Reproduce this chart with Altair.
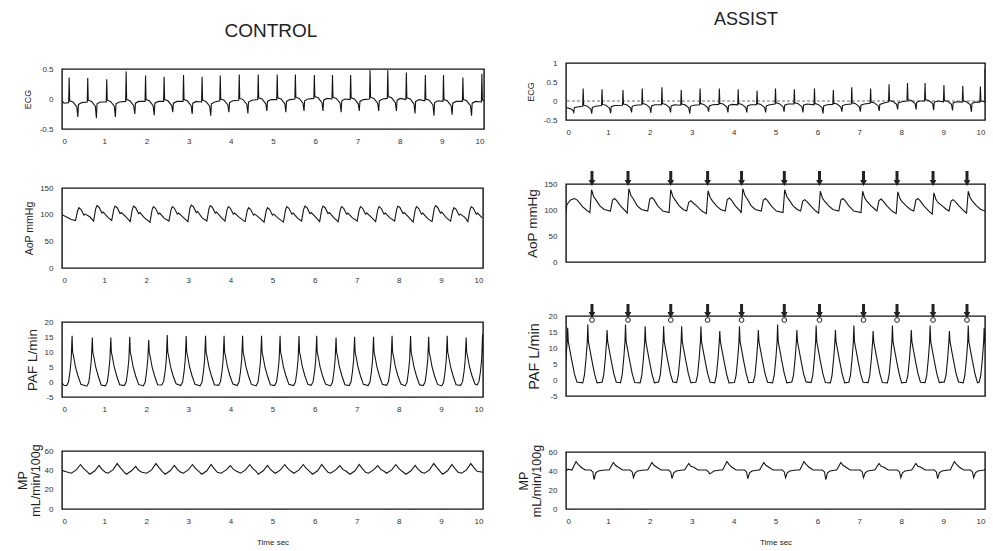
import altair as alt
import pandas as pd

# ================= CONTROL (left column) =================
# ECG: R-wave times (s), R peak (mV), baseline, notch minimum
c_ecg_t = [0.17, 0.61, 1.06, 1.52, 1.98, 2.42, 2.88, 3.32, 3.75, 4.20, 4.65, 5.10,
           5.53, 5.98, 6.41, 6.84, 7.30, 7.72, 8.16, 8.61, 9.04, 9.50, 9.95]
c_ecg_r = [0.36, 0.35, 0.33, 0.46, 0.39, 0.37, 0.40, 0.37, 0.39, 0.41, 0.41, 0.41,
           0.41, 0.40, 0.40, 0.40, 0.48, 0.48, 0.44, 0.40, 0.40, 0.36, 0.42]
c_ecg_base = [-0.06, -0.05, -0.05, -0.04, -0.04, -0.04, -0.04, -0.05, -0.03, -0.02, -0.01, -0.01,
              0.00, 0.01, 0.00, -0.01, 0.00, 0.01, -0.01, -0.03, -0.04, -0.04, -0.05]
c_ecg_dip = [-0.30, -0.32, -0.30, -0.25, -0.27, -0.22, -0.25, -0.28, -0.22, -0.24, -0.20, -0.22,
             -0.20, -0.20, -0.22, -0.20, -0.20, -0.20, -0.24, -0.28, -0.26, -0.28, -0.28]
c_ecg_start = [(0.0, -0.03), (0.05, -0.07), (0.15, -0.06)]

# AoP: systolic peak times, peak, preceding trough (mmHg)
c_aop_t = [0.40, 0.83, 1.26, 1.70, 2.17, 2.62, 3.07, 3.52, 3.95, 4.43, 4.88, 5.34,
           5.77, 6.20, 6.64, 7.09, 7.53, 7.98, 8.42, 8.87, 9.31, 9.72]
c_aop_p = [113, 117, 116, 116, 115, 115, 118, 117, 115, 113, 113, 115,
           116, 116, 115, 115, 115, 116, 115, 117, 113, 115]
c_aop_min = [89, 88, 89, 87, 86, 88, 87, 88, 88, 87, 86, 86,
             88, 87, 87, 88, 87, 88, 86, 87, 88, 87]
c_aop_start = [(0.0, 100), (0.12, 95), (0.22, 91)]

# PAF: peak times, peak flow, trough (L/min)
c_paf_t = [0.24, 0.72, 1.16, 1.61, 2.06, 2.50, 2.95, 3.41, 3.85, 4.29, 4.74, 5.18,
           5.63, 6.05, 6.51, 6.95, 7.40, 7.84, 8.28, 8.71, 9.15, 9.60, 9.99]
c_paf_p = [15.4, 14.8, 14.8, 15.1, 14.0, 15.7, 15.3, 15.4, 15.4, 15.4, 15.4, 15.4,
           15.3, 15.4, 14.8, 15.1, 15.1, 15.4, 15.3, 15.1, 15.4, 14.8, 15.9]
c_paf_min = [-1.2, -1.4, -1.3, -1.2, -1.3, -1.0, -1.2, -1.3, -1.1, -1.2, -1.3, -1.2,
             -1.2, -1.1, -1.3, -1.2, -1.2, -1.1, -1.3, -1.2, -1.3, -1.1, -1.0]
c_paf_start = [(0.0, -0.4), (0.05, -1.1)]

# MP: peak times, peak, preceding trough (mL/min/100g)
c_mp_t = [0.44, 0.88, 1.31, 1.75, 2.23, 2.67, 3.10, 3.54, 4.00, 4.46, 4.88, 5.29,
          5.73, 6.17, 6.60, 7.06, 7.50, 7.93, 8.39, 8.83, 9.26, 9.71]
c_mp_p = [46, 45, 47, 44, 47, 45, 46, 46, 45, 46, 45, 46,
          46, 46, 45, 46, 45, 46, 45, 47, 46, 47]
c_mp_min = [37, 36, 37, 36, 37, 36, 37, 36, 37, 37, 36, 37,
            37, 36, 37, 36, 37, 37, 36, 37, 36, 37]
c_mp_start = [(0.0, 40), (0.1, 38.5)]
c_mp_end = [(10.0, 38)]

# ================= ASSIST (right column) =================
a_ecg_t = [0.41, 0.86, 1.36, 1.82, 2.29, 2.75, 3.20, 3.66, 4.11, 4.56, 5.00,
           5.45, 5.93, 6.38, 6.82, 7.27, 7.71, 8.15, 8.57, 9.02, 9.47, 9.89]
a_ecg_r = [0.33, 0.31, 0.29, 0.33, 0.36, 0.29, 0.33, 0.33, 0.31, 0.27, 0.33,
           0.31, 0.33, 0.29, 0.36, 0.33, 0.44, 0.47, 0.47, 0.42, 0.40, 0.38]
a_ecg_base = [-0.14, -0.12, -0.11, -0.10, -0.10, -0.11, -0.10, -0.09, -0.10, -0.10, -0.08,
              -0.08, -0.10, -0.09, -0.08, -0.06, -0.02, 0.00, 0.00, -0.02, -0.03, -0.03]
a_ecg_dip = [-0.33, -0.32, -0.30, -0.31, -0.30, -0.33, -0.28, -0.30, -0.30, -0.30, -0.28,
             -0.30, -0.33, -0.28, -0.28, -0.26, -0.22, -0.22, -0.24, -0.25, -0.28, -0.25]
a_ecg_start = [(0.0, -0.17), (0.1, -0.2), (0.16, -0.24), (0.185, -0.3), (0.2, -0.17), (0.39, -0.14)]
a_ecg_end = [(9.995, -0.03), (10.0, 0.85)]

# AoP: assisted (tall) beats and native (small) beats
a_aop_tall_t = [0.61, 1.50, 2.50, 3.39, 4.22, 5.22, 6.07, 7.08, 7.92, 8.78, 9.60]
a_aop_tall_v = [139, 141, 139, 137, 141, 139, 136, 136, 135, 133, 136]
a_aop_trough = [95, 94, 95, 93, 94, 95, 94, 95, 93, 92, 94]
a_aop_small_t = [1.12, 2.01, 2.94, 3.86, 4.72, 5.66, 6.57, 7.48, 8.36, 9.20]
a_aop_small_v = [122, 124, 118, 123, 122, 120, 122, 121, 122, 120]
a_aop_start = [(0.0, 97), (0.02, 110), (0.1, 119), (0.2, 122), (0.27, 119), (0.4, 106), (0.5, 99)]
a_aop_end = [(10.0, 98)]

# assist trigger arrows (s)
a_arrow_t = [0.62, 1.48, 2.50, 3.38, 4.19, 5.21, 6.05, 7.10, 7.90, 8.76, 9.57]

a_paf_t = [0.04, 0.52, 0.98, 1.42, 1.89, 2.33, 2.76, 3.22, 3.67, 4.14, 4.59, 5.05,
           5.51, 5.97, 6.43, 6.87, 7.33, 7.79, 8.24, 8.69, 9.15, 9.60, 9.98]
a_paf_p = [16.3, 17.3, 15.6, 17.3, 16.8, 16.8, 16.8, 16.8, 15.3, 16.8, 15.6, 17.3,
           15.6, 17.0, 15.6, 17.0, 15.3, 17.0, 15.6, 17.0, 15.3, 17.0, 16.3]
a_paf_min = [-0.6, -0.9, -0.7, -0.8, -0.9, -0.6, -0.8, -0.7, -0.9, -0.8, -0.7, -0.9,
             -0.6, -0.8, -0.9, -0.7, -0.8, -0.9, -0.7, -0.8, -0.6, -0.9, -0.7]

a_mp_pk_t = [0.24, 1.13, 2.05, 2.93, 3.84, 4.72, 5.68, 6.56, 7.47, 8.35, 9.27]
a_mp_pk_v = [50, 49, 49, 48, 50, 49, 50, 49, 48, 48, 50]
a_mp_dip_t = [0.67, 1.61, 2.53, 3.43, 4.34, 5.24, 6.20, 7.10, 7.99, 8.87, 9.73]
a_mp_dip_v = [31, 33, 32, 37, 32, 33, 31, 33, 33, 32, 33]
a_mp_start = [(0.0, 40), (0.05, 42)]
a_mp_end = [(10.0, 42)]

x_ticks = list(range(11))
ecg_ticks_c = [-0.5, 0, 0.5]
ecg_ticks_a = [-0.5, 0, 0.5, 1]
aop_ticks = [0, 50, 100, 150]
paf_ticks = [-5, 0, 5, 10, 15, 20]
mp_ticks = [0, 20, 40, 60]


# ---------- build point tables from the read values ----------
def ecg_pts(ts, rs, bs, ds, start, end=()):
    pts = list(start)
    for t, r, b, d in zip(ts, rs, bs, ds):
        pts += [(t - 0.012, b), (t, r), (t + 0.012, b + 0.03), (t + 0.09, b + 0.01),
                (t + 0.18, b - 0.07), (t + 0.205, d), (t + 0.22, b - 0.03), (t + 0.3, b)]
    pts += list(end)
    return pd.DataFrame(pts, columns=["t", "v"]).sort_values("t")


def c_aop_pts():
    pts = list(c_aop_start)
    for p, pk, mn in zip(c_aop_t, c_aop_p, c_aop_min):
        pts += [(p - 0.08, mn), (p - 0.03, pk - 6), (p, pk), (p + 0.05, pk - 3),
                (p + 0.12, pk - 14), (p + 0.15, pk - 12), (p + 0.26, mn + 7)]
    return pd.DataFrame(pts, columns=["t", "v"]).sort_values("t")


def a_aop_pts():
    pts = list(a_aop_start)
    for t, v, tr in zip(a_aop_tall_t, a_aop_tall_v, a_aop_trough):
        pts += [(t - 0.04, tr), (t, v), (t + 0.05, v - 13), (t + 0.1, v - 19),
                (t + 0.2, 108), (t + 0.3, 101)]
    for t, v in zip(a_aop_small_t, a_aop_small_v):
        pts += [(t - 0.06, 98), (t - 0.01, v - 3), (t + 0.04, v), (t + 0.09, v - 4),
                (t + 0.18, 108), (t + 0.3, 98)]
    pts += a_aop_end
    return pd.DataFrame(pts, columns=["t", "v"]).sort_values("t")


def c_paf_pts():
    pts = list(c_paf_start)
    for p, pk, mn in zip(c_paf_t, c_paf_p, c_paf_min):
        pts += [(p - 0.13, mn), (p - 0.085, mn + 1.2), (p - 0.05, 3.5), (p - 0.022, 7.5),
                (p, pk), (p + 0.012, 10), (p + 0.035, 8.5), (p + 0.08, 5.0),
                (p + 0.14, 2.0), (p + 0.21, mn + 0.4)]
    return pd.DataFrame(pts, columns=["t", "v"]).sort_values("t")


def a_paf_pts():
    pts = []
    for p, pk, mn in zip(a_paf_t, a_paf_p, a_paf_min):
        pts += [(p - 0.12, mn), (p - 0.08, 1.5), (p - 0.04, 7), (p - 0.012, 12), (p, pk),
                (p + 0.015, 12), (p + 0.05, 9.5), (p + 0.1, 6), (p + 0.16, 2), (p + 0.22, mn)]
    return pd.DataFrame(pts, columns=["t", "v"]).sort_values("t")


def c_mp_pts():
    pts = list(c_mp_start)
    for p, pk, mn in zip(c_mp_t, c_mp_p, c_mp_min):
        pts += [(p - 0.22, mn), (p - 0.1, mn + 3.5), (p, pk), (p + 0.07, pk - 4), (p + 0.15, mn + 2)]
    pts += c_mp_end
    return pd.DataFrame(pts, columns=["t", "v"]).sort_values("t")


def a_mp_pts():
    pts = list(a_mp_start)
    for t, v in zip(a_mp_pk_t, a_mp_pk_v):
        pts += [(t - 0.1, 41), (t, v), (t + 0.05, v - 3), (t + 0.12, 44), (t + 0.22, 41)]
    for t, v in zip(a_mp_dip_t, a_mp_dip_v):
        pts += [(t - 0.08, 41), (t - 0.03, 39), (t, v), (t + 0.04, 38), (t + 0.1, 40), (t + 0.25, 41)]
    pts += a_mp_end
    return pd.DataFrame(pts, columns=["t", "v"]).sort_values("t")


ONE = pd.DataFrame({"k": [0]})
INK = "#151515"
FONT = "Liberation Sans"
XS = alt.Scale(domain=[0, 10], nice=False, zero=False)


def panel(df, ydom, yvals, W, H, L, R, A, B, ytitle, ytitle_x, ytitle_fs,
          xtitle=None, extra=(), zero=False):
    xa = dict(values=x_ticks, format="d", labelFontSize=8, labelPadding=8,
              ticks=False, domain=False, grid=False, labelFont=FONT, labelColor="#333")
    if xtitle:
        xa.update(title=xtitle, titleY=33, titleBaseline="middle", titleFontSize=8,
                  titleFontWeight="normal", titleFont=FONT, titleColor="#222")
    else:
        xa.update(title=None)
    ya = alt.Axis(values=yvals, labelExpr="'' + datum.value", labelFontSize=8, labelPadding=9,
                  ticks=False, domain=False, grid=False, labelFont=FONT, labelColor="#333",
                  title=ytitle, titleX=ytitle_x, titleY=H / 2, titleAngle=270,
                  titleAlign="center", titleBaseline="middle", titleFontSize=ytitle_fs,
                  titleFontWeight="normal", titleFont=FONT, titleColor="#222",
                  titleLineHeight=13)
    ys = alt.Scale(domain=ydom, nice=False, zero=False)
    spacer = alt.Chart(ONE).mark_rule(strokeOpacity=0, color="white").encode(
        x=alt.value(-L), x2=alt.value(W + R), y=alt.value(-A), y2=alt.value(H + B))
    line = alt.Chart(df).mark_line(clip=True, color=INK, strokeWidth=1.1).encode(
        x=alt.X("t:Q", scale=XS, axis=alt.Axis(**xa)),
        y=alt.Y("v:Q", scale=ys, axis=ya))
    layers = [spacer, line]
    if zero:
        layers.append(alt.Chart(pd.DataFrame({"v": [0]})).mark_rule(
            color="#444", strokeWidth=0.8, strokeDash=[3, 2]).encode(
            y=alt.Y("v:Q", scale=ys, axis=ya)))
    layers += list(extra)
    return alt.layer(*layers).properties(width=W, height=H)


def title_cell(s, W, H, x, y, fs):
    return alt.Chart(ONE).mark_text(font=FONT, fontSize=fs, align="center",
                                    baseline="middle", color="#222").encode(
        x=alt.value(x), y=alt.value(y), text=alt.value(s)).properties(
        width=W, height=H, view=alt.ViewBackground(strokeOpacity=0))


def arrows(y_top, y_bot, y_head, circle_y=None):
    adf = pd.DataFrame({"t": a_arrow_t})
    xx = alt.X("t:Q", scale=XS, axis=None)
    layers = [
        alt.Chart(adf).mark_rule(color="#222", strokeWidth=3).encode(
            x=xx, y=alt.value(y_top), y2=alt.value(y_bot)),
        alt.Chart(adf).mark_point(shape="triangle-down", filled=True, color="#222",
                                  size=45, opacity=1).encode(x=xx, y=alt.value(y_head)),
    ]
    if circle_y is not None:
        layers.append(alt.Chart(adf).mark_point(shape="circle", filled=True, fill="white",
                                                stroke="#222", strokeWidth=1, size=22,
                                                opacity=1).encode(x=xx, y=alt.value(circle_y)))
    return layers


LL = 53   # left-column space reserved for y axes
RL = 72   # right-column space reserved for y axes

left = alt.vconcat(
    title_cell("CONTROL", 422, 52, 209, 21, 19),
    panel(ecg_pts(c_ecg_t, c_ecg_r, c_ecg_base, c_ecg_dip, c_ecg_start), [-0.5, 0.5],
          ecg_ticks_c, 422, 60, LL, 8, 6, 37, "ECG", -35, 9),
    panel(c_aop_pts(), [0, 150], aop_ticks, 421, 80, LL, 9, 20, 32,
          "AoP mmHg", -33, 10.5),
    panel(c_paf_pts(), [-5, 20], paf_ticks, 421, 75, LL, 9, 20, 32,
          "PAF L/min", -30, 13.5),
    panel(c_mp_pts(), [0, 60], mp_ticks, 421, 58, LL, 9, 20, 38,
          ["MP", "mL/min/100g"], -40, 12.5, xtitle="Time sec"),
    spacing=0)

right = alt.vconcat(
    title_cell("ASSIST", 419, 46, 180, 10, 18),
    panel(ecg_pts(a_ecg_t, a_ecg_r, a_ecg_base, a_ecg_dip, a_ecg_start, a_ecg_end),
          [-0.5, 1], ecg_ticks_a, 419, 57, RL, 6, 6, 42, "ECG", -36, 9, zero=True),
    panel(a_aop_pts(), [0, 150], aop_ticks, 419, 78, RL, 6, 20, 32,
          "AoP mmHg", -34, 13.5, extra=arrows(-13, -3, -1)),
    panel(a_paf_pts(), [-5, 20], paf_ticks, 419, 80, RL, 6, 20, 34,
          "PAF L/min", -32, 14.5, extra=arrows(-12, -4, -1, circle_y=4)),
    panel(a_mp_pts(), [0, 60], mp_ticks, 419, 57, RL, 6, 20, 38,
          ["MP", "mL/min/100g"], -43, 12.5, xtitle="Time sec"),
    spacing=0)

chart = alt.hconcat(left, right, spacing=0).properties(
    padding={"left": 8, "top": 10, "right": 0, "bottom": 0},
    background="white",
).configure_view(stroke="#111", strokeWidth=1.4)

chart.save("out.html", embed_options={"renderer": "svg", "actions": False})
